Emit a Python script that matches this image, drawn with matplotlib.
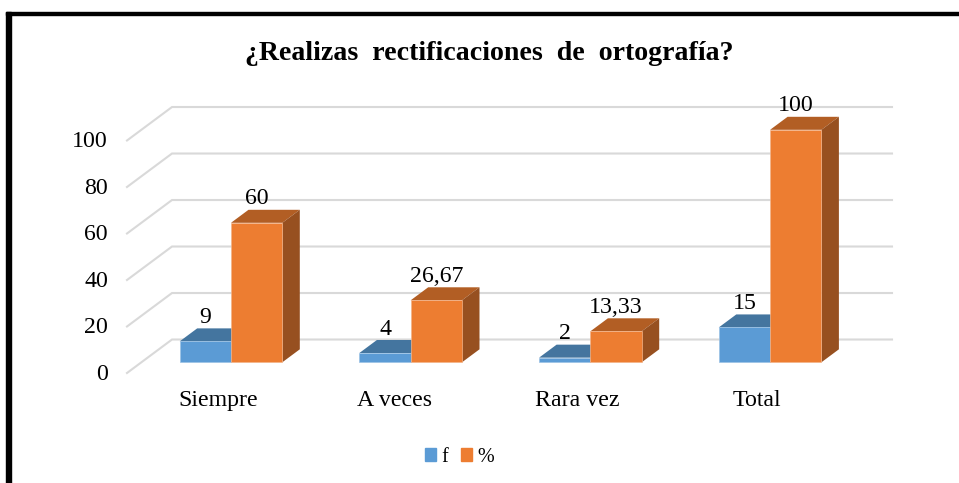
import matplotlib
matplotlib.use('Agg')
from matplotlib import pyplot as plt, patches

categories = ['Siempre', 'A veces', 'Rara vez', 'Total']
f_values = [9, 4, 2, 15]
pct_values = [60, 26.67, 13.33, 100]
f_labels = ['9', '4', '2', '15']
pct_labels = ['60', '26,67', '13,33', '100']
y_ticks = [0, 20, 40, 60, 80, 100]
title = '¿Realizas  rectificaciones  de  ortografía?'

W, H = 959, 483
# pixel scale of the drawing: one category = 179.7 px, one unit = 2.325 px
PX_X = 179.7
PX_Y = 2.325
X0 = 231
Y0 = 362.3
BAR_W = 51.3 / PX_X
DX = 17.5 / PX_X
DY = 13 / PX_Y

BLUE = ['#5B9BD5', '#44759F', '#3A6690']
ORANGE = ['#ED7D31', '#B25E24', '#975020']
GRID = '#D9D9D9'
FONT = 'Liberation Serif'
SIZE = 17.2

plt.rcParams['font.family'] = FONT
fig = plt.figure(figsize=(W / 100, H / 100), dpi=100)
ax = fig.add_axes([0, 0, 1, 1])
ax.set_xlim(-X0 / PX_X, (W - X0) / PX_X)
ax.set_ylim((Y0 - H) / PX_Y, Y0 / PX_Y)
ax.axis('off')


def draw_bar(left, value, colors, z):
    right = left + BAR_W
    ax.bar(left, value, BAR_W, align='edge', color=colors[0], edgecolor='#F3B48A' if colors is ORANGE else '#9CC2E5',
           linewidth=0.5, zorder=z + 0.2)
    top = [(left, value), (left + DX, value + DY), (right + DX, value + DY), (right, value)]
    side = [(right, 0), (right + DX, DY), (right + DX, value + DY), (right, value)]
    ax.add_patch(patches.Polygon(top, facecolor=colors[1], edgecolor='none', zorder=z))
    ax.add_patch(patches.Polygon(side, facecolor=colors[2], edgecolor='none', zorder=z))


# gridlines on the back wall and the left wall
wall_left = (172 - X0) / PX_X
wall_front = (127 - X0) / PX_X
wall_right = (892 - X0) / PX_X
for v in y_ticks:
    ax.plot([wall_front, wall_left, wall_right], [v - 4.6, v + 9.8, v + 9.8], color=GRID, lw=1.5, zorder=1,
            solid_joinstyle='miter')
    ax.text((108 - X0) / PX_X, v - 5.2, str(v), ha='right', va='center', fontsize=SIZE, zorder=5)

cat_shift = [-0.07, -0.09, -0.075, -0.075]
for i, cat in enumerate(categories):
    draw_bar(i - BAR_W, f_values[i], BLUE, 2)
    draw_bar(i, pct_values[i], ORANGE, 3)
    ax.annotate(f_labels[i], (i - BAR_W / 2, f_values[i]), xytext=(0, 17.2), textcoords='offset points',
                ha='center', va='center', fontsize=SIZE, zorder=5)
    ax.annotate(pct_labels[i], (i + BAR_W / 2, pct_values[i]), xytext=(0, 17.2), textcoords='offset points',
                ha='center', va='center', fontsize=SIZE, zorder=5)
    ax.text(i + cat_shift[i], -16.6, cat, ha='center', va='center', fontsize=SIZE)

fig.text(489 / W, 1 - 54 / H, title, ha='center', va='center', fontsize=20.1, fontweight='bold')

# legend
handles = [patches.Patch(color=BLUE[0], label='f'), patches.Patch(color=ORANGE[0], label='%')]
ax.legend(handles=handles, ncol=2, frameon=False, loc='center', bbox_to_anchor=(459.5 / W, 1 - 457 / H),
          bbox_transform=fig.transFigure, fontsize=14.5, handlelength=0.55, handleheight=0.58,
          handletextpad=0.3, columnspacing=0.6, borderpad=0)

# frame around the picture (top and left only)
fig.add_artist(patches.Rectangle((6 / W, 0), 5 / W, 1 - 12 / H, transform=fig.transFigure, color='black'))
fig.add_artist(patches.Rectangle((6 / W, 1 - 15 / H), 1 - 6 / W, 3 / H, transform=fig.transFigure, color='black'))

fig.savefig('out.png', dpi=100)
